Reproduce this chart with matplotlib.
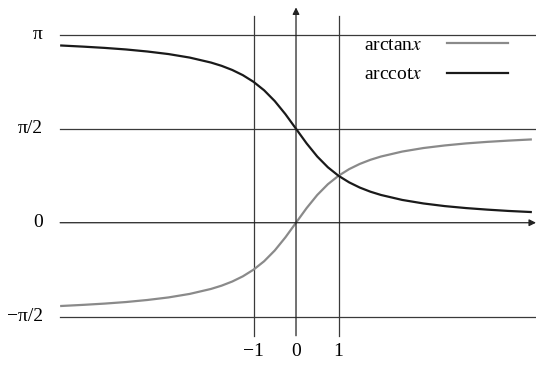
import numpy as np
import matplotlib
matplotlib.use("Agg")
import matplotlib.pyplot as plt

# ---- данные ----
x_vals = [-5.55, -5.0, -4.5, -4.0, -3.5, -3.0, -2.5, -2.0, -1.75, -1.5, -1.25, -1.0,
          -0.75, -0.5, -0.25, 0.0, 0.25, 0.5, 0.75, 1.0, 1.25, 1.5, 1.75, 2.0,
          2.5, 3.0, 3.5, 4.0, 4.5, 5.0, 5.55]
arctan_vals = [-1.393, -1.373, -1.352, -1.326, -1.292, -1.249, -1.190, -1.107, -1.052,
               -0.983, -0.896, -0.785, -0.644, -0.464, -0.245, 0.0, 0.245, 0.464,
               0.644, 0.785, 0.896, 0.983, 1.052, 1.107, 1.190, 1.249, 1.292, 1.326,
               1.352, 1.373, 1.393]
arccot_vals = [2.964, 2.944, 2.923, 2.897, 2.863, 2.820, 2.761, 2.678, 2.623, 2.554,
               2.467, 2.356, 2.214, 2.034, 1.816, 1.571, 1.326, 1.107, 0.927, 0.785,
               0.675, 0.588, 0.519, 0.464, 0.381, 0.322, 0.278, 0.245, 0.219, 0.197,
               0.178]

y_levels = [np.pi, np.pi / 2, 0.0, -np.pi / 2]
y_labels = ["π", "π/2", "0", "−π/2"]
x_ticks = [-1, 0, 1]
x_labels = ["−1", "0", "1"]
legend_names = ["arctan", "arccot"]

plt.rcParams['font.family'] = ['Liberation Serif', 'DejaVu Serif']
plt.rcParams['mathtext.fontset'] = 'stix'

fig = plt.figure(figsize=(5.36, 3.68), dpi=100)
ax = fig.add_axes([0, 0, 1, 1])
ax.set_xlim(-6.965, 5.647)
ax.set_ylim(-2.429, 3.724)
ax.axis('off')

grid_c = '#3a3a3a'
x_left, x_right = -5.55, 5.647
fs = 14

# горизонтальные уровни
for y in [np.pi, np.pi / 2, -np.pi / 2]:
    ax.plot([x_left, x_right], [y, y], color=grid_c, lw=0.9)
# ось x со стрелкой
ax.annotate('', xy=(x_right, 0), xytext=(x_left, 0),
            arrowprops=dict(arrowstyle='-|>', lw=0.9, color='#222222',
                            shrinkA=0, shrinkB=0, mutation_scale=10))
# вертикальные x = -1, 1
for xv in [-1, 1]:
    ax.plot([xv, xv], [-1.89, 3.46], color=grid_c, lw=0.9)
# ось y со стрелкой
ax.annotate('', xy=(0, 3.6), xytext=(0, -1.89),
            arrowprops=dict(arrowstyle='-|>', lw=0.9, color='#222222',
                            shrinkA=0, shrinkB=0, mutation_scale=10))

# кривые
ax.plot(x_vals, arctan_vals, color='#8a8a8a', lw=1.6, solid_capstyle='butt')
ax.plot(x_vals, arccot_vals, color='#1a1a1a', lw=1.6, solid_capstyle='butt')

# подписи по оси y
for y, lab in zip(y_levels, y_labels):
    ax.text(-5.95, y, lab, ha='right', va='center', fontsize=fs)
# подписи по оси x
for xv, lab in zip(x_ticks, x_labels):
    ax.text(xv, -2.15, lab, ha='center', va='center', fontsize=fs)

# легенда
y1, y2 = np.pi - 0.17, np.pi - 0.66
ax.text(1.6, y1, legend_names[0] + r'$x$', ha='left', va='center', fontsize=fs)
ax.plot([3.55, 4.98], [y1 + 0.03, y1 + 0.03], color='#8a8a8a', lw=1.6)
ax.text(1.6, y2, legend_names[1] + r'$x$', ha='left', va='center', fontsize=fs)
ax.plot([3.55, 4.98], [y2 + 0.03, y2 + 0.03], color='#1a1a1a', lw=1.6)

fig.savefig('out.png', dpi=100)
